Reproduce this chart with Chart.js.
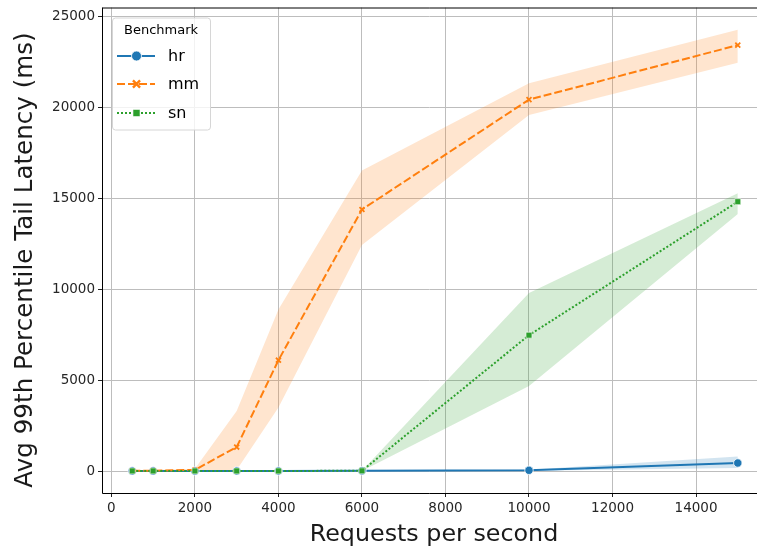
<!DOCTYPE html>
<html>
<head>
<meta charset="utf-8">
<script src="https://cdn.jsdelivr.net/npm/chart.js@4.4.1/dist/chart.umd.min.js"></script>
<style>
html,body{margin:0;padding:0;background:#fff;}
#wrap{width:757px;height:550px;position:relative;}
</style>
</head>
<body>
<div id="wrap"><canvas id="c" width="757" height="550"></canvas></div>
<script>
// ---- data ----
const rps = [500, 1000, 2000, 3000, 4000, 6000, 10000, 15000];
const hrMean = [5, 5, 5, 5, 5, 10, 40, 440];
const hrLow  = [0, 0, 0, 0, 0, 0, 10, 170];
const hrHigh = [10, 10, 10, 10, 10, 20, 70, 800];
const mmMean = [10, 20, 60, 1320, 6100, 14400, 20450, 23450];
const mmLow  = [0, 0, 10, 50, 3500, 12450, 19600, 22480];
const mmHigh = [30, 50, 120, 3300, 8900, 16550, 21350, 24300];
const snMean = [5, 5, 5, 5, 5, 10, 7480, 14830];
const snLow  = [0, 0, 0, 0, 0, 0, 4680, 14150];
const snHigh = [10, 10, 10, 10, 10, 20, 9800, 15290];
const seriesNames = ['hr', 'mm', 'sn'];
const xTicks = [0, 2000, 4000, 6000, 8000, 10000, 12000, 14000];
const yTicks = [0, 5000, 10000, 15000, 20000, 25000];
const legendTitle = 'Benchmark';
const xTitle = 'Requests per second';
const yTitle = 'Avg 99th Percentile Tail Latency (ms)';

const colors = ['#1f77b4', '#ff7f0e', '#2ca02c'];
const bands = ['rgba(31,119,180,0.2)', 'rgba(255,127,14,0.2)', 'rgba(44,160,44,0.2)'];
const pts = (ys) => rps.map((x, i) => ({x: x, y: ys[i]}));
const FONT = "'DejaVu Sans', sans-serif";

const means = [hrMean, mmMean, snMean];
const lows = [hrLow, mmLow, snLow];
const highs = [hrHigh, mmHigh, snHigh];
const styles = [
  {dash: [], pointStyle: 'circle', radius: 4.2, pbw: 0.8, pbc: '#ffffff'},
  {dash: [8, 3], pointStyle: 'crossRot', radius: 3.5, pbw: 1.8, pbc: colors[1]},
  {dash: [2, 2], pointStyle: 'rect', radius: 4.2, pbw: 0.6, pbc: '#ffffff'}
];

const datasets = [];
for (let s = 0; s < 3; s++) {
  datasets.push({
    label: seriesNames[s] + '_hi', data: pts(highs[s]), borderWidth: 0, pointRadius: 0,
    backgroundColor: bands[s], borderColor: 'rgba(0,0,0,0)', fill: '+1', order: 20 - s
  });
  datasets.push({
    label: seriesNames[s] + '_lo', data: pts(lows[s]), borderWidth: 0, pointRadius: 0,
    backgroundColor: bands[s], borderColor: 'rgba(0,0,0,0)', fill: false, order: 20 - s
  });
}
for (let s = 0; s < 3; s++) {
  datasets.push({
    label: seriesNames[s], data: pts(means[s]), borderColor: colors[s], backgroundColor: colors[s],
    borderWidth: 2, borderDash: styles[s].dash, fill: false,
    pointStyle: styles[s].pointStyle, pointRadius: styles[s].radius,
    pointBorderColor: styles[s].pbc, pointBorderWidth: styles[s].pbw,
    pointBackgroundColor: colors[s], order: 5 - s, tension: 0
  });
}

const frameAndLegend = {
  id: 'frameAndLegend',
  afterDraw(chart) {
    const ctx = chart.ctx, a = chart.chartArea, W = chart.width;
    ctx.save();
    ctx.strokeStyle = '#000';
    ctx.lineWidth = 1;
    ctx.beginPath();
    ctx.moveTo(a.left + 0.5, a.top + 0.5);
    ctx.lineTo(W, a.top + 0.5);
    ctx.moveTo(a.left + 0.5, a.top);
    ctx.lineTo(a.left + 0.5, a.bottom + 0.5);
    ctx.lineTo(W, a.bottom + 0.5);
    ctx.stroke();

    // axis titles
    ctx.fillStyle = '#1a1a1a';
    ctx.font = "23.8px " + FONT;
    ctx.textAlign = 'center';
    ctx.textBaseline = 'middle';
    ctx.fillText(xTitle, 434, 534.5);
    ctx.save();
    ctx.translate(26, 260);
    ctx.rotate(-Math.PI / 2);
    ctx.font = "24.6px " + FONT;
    ctx.fillText(yTitle, 0, 0);
    ctx.restore();

    // legend box
    const lx = 112, ly = 17.5, lw = 98, lh = 112;
    ctx.fillStyle = 'rgba(255,255,255,0.8)';
    ctx.strokeStyle = '#d6d6d6';
    ctx.lineWidth = 1;
    ctx.beginPath();
    ctx.roundRect(lx + 0.5, ly + 0.5, lw, lh, 3);
    ctx.fill();
    ctx.stroke();
    ctx.fillStyle = '#000';
    ctx.font = "13px " + FONT;
    ctx.textAlign = 'center';
    ctx.textBaseline = 'middle';
    ctx.fillText(legendTitle, lx + lw / 2, 31);
    const rowsY = [56, 84, 113];
    for (let s = 0; s < 3; s++) {
      const y = rowsY[s];
      ctx.strokeStyle = colors[s];
      ctx.lineWidth = 2;
      ctx.setLineDash(styles[s].dash);
      ctx.beginPath();
      ctx.moveTo(117, y);
      ctx.lineTo(155, y);
      ctx.stroke();
      ctx.setLineDash([]);
      ctx.fillStyle = colors[s];
      ctx.strokeStyle = styles[s].pbc;
      ctx.lineWidth = styles[s].pbw;
      ctx.beginPath();
      const r = styles[s].radius + 0.8;
      if (styles[s].pointStyle === 'circle') {
        ctx.arc(136.5, y, r, 0, Math.PI * 2);
        ctx.fill(); ctx.stroke();
      } else if (styles[s].pointStyle === 'rect') {
        const h = r * Math.SQRT1_2;
        ctx.rect(136.5 - h, y - h, 2 * h, 2 * h);
        ctx.fill(); ctx.stroke();
      } else {
        ctx.strokeStyle = colors[s];
        ctx.lineWidth = 2.4;
        const h = r * Math.SQRT1_2 + 0.5;
        ctx.moveTo(136.5 - h, y - h); ctx.lineTo(136.5 + h, y + h);
        ctx.moveTo(136.5 - h, y + h); ctx.lineTo(136.5 + h, y - h);
        ctx.stroke();
      }
      ctx.fillStyle = '#000';
      ctx.textAlign = 'left';
      ctx.font = "16px " + FONT;
      ctx.fillText(seriesNames[s], 168, y + 1);
    }
    ctx.restore();
  }
};

new Chart(document.getElementById('c'), {
  type: 'line',
  data: {datasets: datasets},
  options: {
    responsive: false,
    animation: false,
    devicePixelRatio: 1,
    layout: {autoPadding: false, padding: {left: 0, right: 0, top: 7.5, bottom: 0}},
    plugins: {legend: {display: false}, tooltip: {enabled: false}},
    elements: {line: {borderCapStyle: 'butt'}},
    scales: {
      x: {
        type: 'linear', min: -225, max: 15460,
        afterBuildTicks: (sc) => { sc.ticks = xTicks.map(v => ({value: v})); },
        afterFit: (sc) => { sc.height = 57; sc.paddingLeft = 0; sc.paddingRight = 0; },
        grid: {color: '#bdbdbd', lineWidth: 1, tickColor: '#222', tickLength: 4, drawOnChartArea: true},
        border: {display: false},
        ticks: {color: '#262626', font: {family: FONT, size: 13.5}, padding: 3, maxRotation: 0, autoSkip: false,
          callback: (v) => String(v)}
      },
      y: {
        type: 'linear', min: -1211, max: 25523,
        afterBuildTicks: (sc) => { sc.ticks = yTicks.map(v => ({value: v})); },
        afterFit: (sc) => { sc.width = 102; sc.paddingTop = 0; sc.paddingBottom = 0; },
        grid: {color: '#bdbdbd', lineWidth: 1, tickColor: '#222', tickLength: 4},
        border: {display: false},
        ticks: {color: '#262626', font: {family: FONT, size: 13.5}, padding: 3, autoSkip: false,
          callback: (v) => String(v)}
      }
    }
  },
  plugins: [frameAndLegend]
});
</script>
</body>
</html>
